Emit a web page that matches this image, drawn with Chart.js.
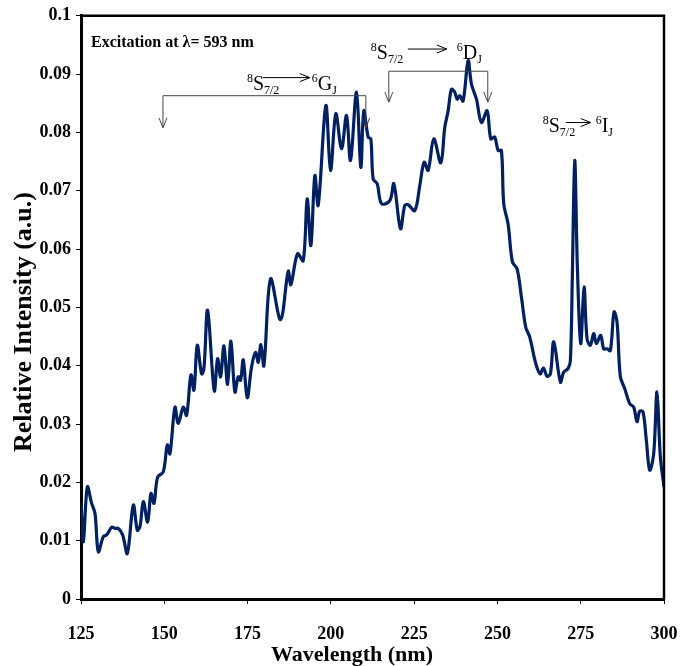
<!DOCTYPE html>
<html lang="en">
  <head>
    <meta charset="UTF-8" />
    <title>Excitation spectrum</title>
    <script src="https://cdn.jsdelivr.net/npm/chart.js@4.4.0/dist/chart.umd.min.js"></script>
    <style>
      body { margin: 0; background: #fff; }
      canvas { display: block; }
    </style>
  </head>
  <body>
    <canvas id="chart" width="694" height="666"></canvas>

    <script>
      // wavelength (nm)
      const wavelengths = [
        125.0, 125.7, 126.9, 128.2, 129.2, 130.2, 131.7, 132.7, 134.2, 135.2,
        136.2, 137.5, 138.9, 140.7, 141.9, 142.7, 143.7, 145.0, 146.0, 146.9,
        148.0, 149.7, 150.9, 151.7, 153.2, 154.2, 155.7, 156.7, 158.0, 158.9,
        159.9, 161.2, 161.9, 163.0, 165.0, 166.0, 166.9, 167.9, 169.0, 170.0,
        171.2, 172.2, 172.9, 173.7, 174.9, 176.2, 177.4, 178.2, 179.0, 179.9,
        181.9, 184.9, 187.2, 188.0, 190.0, 191.7, 192.9, 194.0, 195.2, 196.2,
        198.5, 199.9, 201.5, 203.2, 204.7, 205.9, 207.7, 209.0, 209.9, 211.2,
        212.0, 212.7, 213.9, 215.2, 217.7, 218.9, 220.9, 222.2, 223.2, 225.2,
        226.7, 228.0, 229.2, 230.9, 233.0, 234.2, 235.2, 236.2, 237.2, 237.9,
        238.7, 239.7, 241.2, 242.2, 243.7, 245.2, 246.9, 248.0, 249.2, 250.2,
        251.2, 251.9, 253.2, 254.5, 255.9, 257.2, 258.5, 259.7, 261.5, 262.8,
        263.8, 264.9, 265.9, 266.9, 268.9, 269.9, 271.2, 271.9, 272.5, 273.2,
        274.0, 275.0, 276.0, 276.9, 277.9, 278.9, 279.7, 281.0, 281.9, 282.9,
        283.9, 285.0, 285.9, 286.9, 288.2, 289.7, 290.9, 291.9, 292.7, 293.7,
        294.7, 295.7, 296.9, 297.9, 298.9, 300.0,
      ];

      // relative intensity (a.u.)
      const intensities = [
        0.0165, 0.0098, 0.0192, 0.0164, 0.0147, 0.0081, 0.0107, 0.0110, 0.0123, 0.0121,
        0.0121, 0.0110, 0.0078, 0.0161, 0.0118, 0.0124, 0.0167, 0.0132, 0.0181, 0.0164,
        0.0209, 0.0218, 0.0264, 0.0249, 0.0329, 0.0301, 0.0329, 0.0315, 0.0384, 0.0358,
        0.0435, 0.0386, 0.0395, 0.0495, 0.0357, 0.0412, 0.0381, 0.0434, 0.0368, 0.0442,
        0.0355, 0.0381, 0.0375, 0.0410, 0.0345, 0.0398, 0.0423, 0.0406, 0.0436, 0.0400,
        0.0549, 0.0479, 0.0562, 0.0539, 0.0592, 0.0580, 0.0686, 0.0606, 0.0726, 0.0675,
        0.0846, 0.0735, 0.0832, 0.0772, 0.0829, 0.0752, 0.0869, 0.0740, 0.0837, 0.0792,
        0.0789, 0.0720, 0.0712, 0.0678, 0.0683, 0.0712, 0.0635, 0.0675, 0.0676, 0.0666,
        0.0709, 0.0749, 0.0735, 0.0789, 0.0748, 0.0809, 0.0837, 0.0874, 0.0869, 0.0857,
        0.0863, 0.0854, 0.0923, 0.0883, 0.0857, 0.0817, 0.0837, 0.0789, 0.0792, 0.0769,
        0.0769, 0.0678, 0.0643, 0.0578, 0.0566, 0.0518, 0.0466, 0.0449, 0.0404, 0.0386,
        0.0396, 0.0382, 0.0386, 0.0441, 0.0372, 0.0389, 0.0395, 0.0409, 0.0558, 0.0752,
        0.0569, 0.0438, 0.0535, 0.0446, 0.0435, 0.0455, 0.0438, 0.0452, 0.0429, 0.0429,
        0.0426, 0.0492, 0.0475, 0.0381, 0.0361, 0.0335, 0.0329, 0.0304, 0.0322, 0.0321,
        0.0272, 0.0221, 0.0249, 0.0355, 0.0244, 0.0192,
      ];

      const xTicks = [125, 150, 175, 200, 225, 250, 275, 300];
      const yTickLabels = ["0", "0.01", "0.02", "0.03", "0.04", "0.05", "0.06", "0.07", "0.08", "0.09", "0.1"];

      const serif = "'Liberation Serif', 'Times New Roman', serif";
      const navy = "#002060";

      // transition labels, anchored in data units
      const transitions = [
        { start: 174.8, base: 0.0873, ax1: 179.6, ax2: 193.7, ay: 0.0894, target: 194.3, letter: "G" },
        { start: 212.0, base: 0.0926, ax1: 223.1, ax2: 234.8, ay: 0.0943, target: 237.8, letter: "D" },
        { start: 263.6, base: 0.0800, ax1: 270.5, ax2: 278.0, ay: 0.0817, target: 279.5, letter: "I" },
      ];
      const brackets = [
        { x1: 149.6, x2: 210.5, top: 0.0863, tip: 0.0808 },
        { x1: 217.4, x2: 247.1, top: 0.0905, tip: 0.0852 },
      ];

      function arrowHead(ctx, x, y, dir) {
        ctx.beginPath();
        if (dir === "down") {
          ctx.moveTo(x - 4, y - 10);
          ctx.lineTo(x, y);
          ctx.lineTo(x + 4, y - 10);
        } else {
          ctx.moveTo(x - 10, y - 4);
          ctx.lineTo(x, y);
          ctx.lineTo(x - 10, y + 4);
        }
        ctx.stroke();
      }

      function drawParts(ctx, x, y, parts) {
        parts.forEach(([txt, kind]) => {
          if (kind === "n") {
            ctx.font = `20px ${serif}`;
            ctx.fillText(txt, x, y);
          } else {
            ctx.font = `12px ${serif}`;
            ctx.fillText(txt, x, kind === "sup" ? y - 8 : y + 4);
          }
          x += ctx.measureText(txt).width;
        });
      }

      const annotations = {
        id: "annotations",
        afterDatasetsDraw(chart) {
          const { ctx, chartArea, scales } = chart;
          const px = (v) => scales.x.getPixelForValue(v);
          const py = (v) => scales.y.getPixelForValue(v);
          ctx.save();

          // top and right frame
          ctx.strokeStyle = "#000";
          ctx.lineWidth = 2.5;
          ctx.beginPath();
          ctx.moveTo(chartArea.left, chartArea.top);
          ctx.lineTo(chartArea.right, chartArea.top);
          ctx.lineTo(chartArea.right, chartArea.bottom);
          ctx.stroke();

          ctx.fillStyle = "#000";
          ctx.textBaseline = "alphabetic";
          ctx.font = `bold 16px ${serif}`;
          ctx.fillText("Excitation at \u03bb= 593 nm", px(128.0), py(0.0947));

          // brackets
          ctx.strokeStyle = "#444";
          ctx.lineWidth = 1;
          brackets.forEach((b) => {
            ctx.beginPath();
            ctx.moveTo(px(b.x1), py(b.tip));
            ctx.lineTo(px(b.x1), py(b.top));
            ctx.lineTo(px(b.x2), py(b.top));
            ctx.lineTo(px(b.x2), py(b.tip));
            ctx.stroke();
            arrowHead(ctx, px(b.x1), py(b.tip), "down");
            arrowHead(ctx, px(b.x2), py(b.tip), "down");
          });

          // transition labels
          ctx.strokeStyle = "#000";
          transitions.forEach((t) => {
            drawParts(ctx, px(t.start), py(t.base), [["8", "sup"], ["S", "n"], ["7/2", "sub"]]);
            ctx.beginPath();
            ctx.moveTo(px(t.ax1), py(t.ay));
            ctx.lineTo(px(t.ax2), py(t.ay));
            ctx.stroke();
            arrowHead(ctx, px(t.ax2), py(t.ay), "right");
            drawParts(ctx, px(t.target), py(t.base), [["6", "sup"], [t.letter, "n"], ["J", "sub"]]);
          });

          // axis titles
          ctx.textAlign = "center";
          ctx.textBaseline = "middle";
          ctx.font = `bold 22px ${serif}`;
          ctx.fillText("Wavelength (nm)", 352, 655);
          ctx.font = `bold 26px ${serif}`;
          ctx.translate(24, 322);
          ctx.rotate(-Math.PI / 2);
          ctx.fillText("Relative Intensity (a.u.)", 0, 0);
          ctx.restore();
        },
      };

      new Chart(document.getElementById("chart"), {
        type: "line",
        data: {
          datasets: [
            {
              data: wavelengths.map((w, i) => ({ x: w, y: intensities[i] })),
              borderColor: navy,
              borderWidth: 3.2,
              pointRadius: 0,
              tension: 0.35,
              fill: false,
            },
          ],
        },
        options: {
          responsive: false,
          animation: false,
          devicePixelRatio: 1,
          layout: { padding: { top: 15, right: 30, left: 0, bottom: 0 } },
          plugins: { legend: { display: false }, tooltip: { enabled: false } },
          scales: {
            x: {
              type: "linear",
              min: 125,
              max: 300,
              afterBuildTicks: (scale) => {
                scale.ticks = xTicks.map((v) => ({ value: v }));
              },
              afterFit: (scale) => {
                scale.height = 67;
                scale.paddingLeft = 0;
                scale.paddingRight = 0;
              },
              grid: { drawOnChartArea: false, tickLength: 5, color: "#000", tickWidth: 1 },
              border: { color: "#000", width: 3 },
              ticks: {
                color: "#000",
                padding: 20,
                maxRotation: 0,
                font: { family: serif, size: 18, weight: "bold" },
              },
            },
            y: {
              min: 0,
              max: 0.1,
              afterBuildTicks: (scale) => {
                scale.ticks = yTickLabels.map((_, i) => ({ value: i / 100 }));
              },
              afterFit: (scale) => {
                scale.width = 81;
              },
              grid: { drawOnChartArea: false, tickLength: 5, color: "#000", tickWidth: 1 },
              border: { color: "#000", width: 3 },
              ticks: {
                color: "#000",
                padding: 5,
                font: { family: serif, size: 18, weight: "bold" },
                callback: (value, index) => yTickLabels[index],
              },
            },
          },
        },
        plugins: [annotations],
      });
    </script>
  </body>
</html>
